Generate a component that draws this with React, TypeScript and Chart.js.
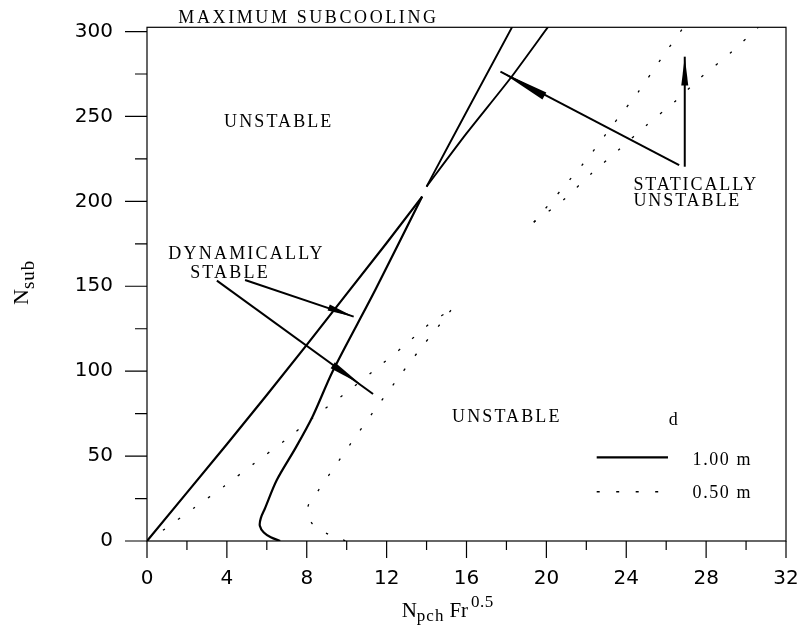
import React, { useEffect, useRef } from 'react';
import { Chart, registerables } from 'chart.js';

Chart.register(...registerables);

// ---- axis ticks ----
const X_MAJOR = [0, 4, 8, 12, 16, 20, 24, 28, 32];
const X_MINOR = [2, 6, 10, 14, 18, 22, 26, 30];
const Y_MAJOR = [0, 50, 100, 150, 200, 250, 300];
const Y_MINOR = [25, 75, 125, 175, 225, 275];

// ---- d = 1.00 m (solid) ----
const solidLowLeftX = [0, 2, 4, 6, 8, 10, 12, 13.78];
const solidLowLeftY = [0, 28.5, 57, 86, 115.5, 145.5, 175.5, 202.8];
const solidLowRightX = [6.67, 6.2, 5.85, 5.65, 5.7, 5.9, 6.5, 7.45, 8.3, 9.3, 11.43, 13.78];
const solidLowRightY = [0, 2.2, 5, 9, 13.5, 19, 35.9, 55, 73.5, 100, 147.8, 202.8];
const solidUpLeftX = [14.0, 16.13, 18.3];
const solidUpLeftY = [208.7, 255.6, 303];
const solidUpRightX = [14.0, 16.0, 18.2, 20.1];
const solidUpRightY = [208.7, 240, 272.5, 303];

// ---- d = 0.50 m (dotted) ----
const dotLowLeftX = [0.8, 2.37, 3.88, 5.38, 6.89, 8.43, 9.93, 11.4, 12.82, 14.24, 15.25];
const dotLowLeftY = [6.3, 19.6, 32.4, 45.8, 59.1, 73.6, 87, 100.7, 114.4, 128.8, 136.3];
const dotLowRightX = [9.93, 9.09, 8.26, 8.06, 8.56, 9.09, 10.15, 11.32, 12.44, 13.58, 14.74, 15.25];
const dotLowRightY = [0.2, 3.9, 10.4, 20.2, 29.4, 38.5, 56.5, 75.8, 93.8, 111.5, 128.6, 136.3];
const dotUpLeftX = [19.37, 20.88, 22.13, 23.22, 24.64, 25.73, 26.9];
const dotUpLeftY = [187.7, 208.7, 226.3, 243.4, 265, 283.7, 303];
const dotUpRightX = [19.37, 20.85, 22.22, 23.67, 25.03, 26.4, 27.73, 29.2, 30.65];
const dotUpRightY = [187.7, 200.8, 216, 230.9, 245, 258.4, 272.9, 287.2, 303];

// ---- legend ----
const LEGEND_TITLE = 'd';
const LEGEND_LABELS = ['1.00 m', '0.50 m'];

const SERIF = '"Liberation Serif", "Times New Roman", serif';
const DOT_DASH = [2.5, 16];

function pts(xs: number[], ys: number[]) {
  return xs.map((v, i) => ({ x: v, y: ys[i] }));
}

function line(xs: number[], ys: number[], dotted: boolean, tension = 0, width = 2) {
  return {
    data: pts(xs, ys),
    showLine: true,
    borderColor: '#000',
    backgroundColor: '#000',
    borderWidth: dotted ? 1.3 : width,
    borderDash: dotted ? DOT_DASH : [],
    pointRadius: 0,
    tension,
    fill: false,
  };
}

function drawText(ctx: any, s: string, x: number, y: number, size: number, spacing: number) {
  ctx.font = `${size}px ${SERIF}`;
  ctx.letterSpacing = `${spacing}px`;
  ctx.textAlign = 'left';
  ctx.textBaseline = 'alphabetic';
  ctx.fillText(s, x, y);
  const w = ctx.measureText(s).width;
  ctx.letterSpacing = '0px';
  return w;
}

function drawArrow(ctx: any, s: number[], e: number[], b: number[], a: number[], w: number) {
  ctx.lineWidth = 2;
  ctx.beginPath();
  ctx.moveTo(s[0], s[1]);
  ctx.lineTo(e[0], e[1]);
  ctx.stroke();
  const dx = a[0] - b[0];
  const dy = a[1] - b[1];
  const L = Math.hypot(dx, dy);
  const nx = (-dy / L) * (w / 2);
  const ny = (dx / L) * (w / 2);
  ctx.beginPath();
  ctx.moveTo(a[0], a[1]);
  ctx.lineTo(b[0] + nx, b[1] + ny);
  ctx.lineTo(b[0] - nx, b[1] - ny);
  ctx.closePath();
  ctx.fill();
}

const overlay = {
  id: 'overlay',
  afterDatasetsDraw(chart: any) {
    const { ctx, chartArea: a } = chart;
    const xs = chart.scales.x;
    const ys = chart.scales.y;
    const X = (v: number) => xs.getPixelForValue(v);
    const Y = (v: number) => ys.getPixelForValue(v);
    const P = (vx: number, vy: number) => [X(vx), Y(vy)];
    ctx.save();
    ctx.strokeStyle = '#000';
    ctx.fillStyle = '#000';
    ctx.lineWidth = 1.2;
    ctx.strokeRect(a.left, a.top, a.right - a.left, a.bottom - a.top);

    ctx.beginPath();
    X_MAJOR.forEach((v) => { ctx.moveTo(X(v), a.bottom); ctx.lineTo(X(v), a.bottom + 17); });
    X_MINOR.forEach((v) => { ctx.moveTo(X(v), a.bottom); ctx.lineTo(X(v), a.bottom + 9); });
    Y_MAJOR.forEach((v) => { ctx.moveTo(a.left - 22, Y(v)); ctx.lineTo(a.left, Y(v)); });
    Y_MINOR.forEach((v) => { ctx.moveTo(a.left - 12, Y(v)); ctx.lineTo(a.left, Y(v)); });
    ctx.stroke();

    // arrows
    drawArrow(ctx, P(3.5, 153.3), P(11.32, 86.6), P(9.3, 103.5), P(10.7, 92.3), 7.5);
    drawArrow(ctx, P(4.91, 153.7), P(10.35, 132.1), P(9.1, 137.5), P(10.35, 132.1), 6.5);
    drawArrow(ctx, P(26.65, 221.4), P(17.7, 276.4), P(19.9, 262), P(17.7, 276.4), 8);
    drawArrow(ctx, P(26.93, 220.4), P(26.93, 285.2), P(26.93, 268.2), P(26.93, 285.2), 7);

    // region labels
    drawText(ctx, 'MAXIMUM SUBCOOLING', X(1.57), Y(304.9), 18, 2.6);
    drawText(ctx, 'UNSTABLE', X(3.86), Y(243.6), 18, 2.1);
    drawText(ctx, 'DYNAMICALLY', X(1.07), Y(165.9), 18, 2.2);
    drawText(ctx, 'STABLE', X(2.16), Y(154.7), 18, 2.2);
    drawText(ctx, 'STATICALLY', X(24.36), Y(206.7), 18, 1.9);
    drawText(ctx, 'UNSTABLE', X(24.36), Y(197.3), 18, 1.9);
    drawText(ctx, 'UNSTABLE', X(15.28), Y(70.3), 18, 2.1);

    // legend
    drawText(ctx, LEGEND_TITLE, X(26.13), Y(68.3), 18, 0);
    ctx.lineWidth = 2.2;
    ctx.beginPath();
    ctx.moveTo(X(22.52), Y(49.3));
    ctx.lineTo(X(26.09), Y(49.3));
    ctx.stroke();
    drawText(ctx, LEGEND_LABELS[0], X(27.32), Y(44.8), 18, 1.6);
    ctx.lineWidth = 1.3;
    ctx.setLineDash([3, 16.5]);
    ctx.beginPath();
    ctx.moveTo(X(22.52), Y(29));
    ctx.lineTo(X(26.09), Y(29));
    ctx.stroke();
    ctx.setLineDash([]);
    drawText(ctx, LEGEND_LABELS[1], X(27.32), Y(25.1), 18, 1.6);

    // x-axis title
    let cx = 401.7;
    cx += drawText(ctx, 'N', cx, 616.7, 21, 0);
    cx += drawText(ctx, 'pch', cx, 620.5, 17, 1);
    cx += 5;
    cx += drawText(ctx, 'Fr', cx, 616.7, 21, 0);
    cx += 3;
    drawText(ctx, '0.5', cx, 606.7, 17, 0.5);

    // y-axis title (rotated)
    ctx.save();
    ctx.translate(27.5, 305);
    ctx.rotate(-Math.PI / 2);
    let ly = 0;
    ly += drawText(ctx, 'N', 0, 0, 22, 0);
    drawText(ctx, 'sub', ly, 6, 19, 1);
    ctx.restore();

    ctx.restore();
  },
};

export default function App() {
  const ref = useRef<HTMLCanvasElement | null>(null);
  useEffect(() => {
    if (!ref.current) return;
    const tickFont = { family: '"DejaVu Sans", Arial, sans-serif', size: 20 };
    const chart = new Chart(ref.current, {
      type: 'scatter',
      data: {
        datasets: [
          line(solidLowLeftX, solidLowLeftY, false, 0, 2.2),
          line(solidLowRightX, solidLowRightY, false, 0.3, 2.2),
          line(solidUpLeftX, solidUpLeftY, false, 0.2, 1.9),
          line(solidUpRightX, solidUpRightY, false, 0.2, 1.9),
          line(dotLowLeftX, dotLowLeftY, true, 0.2),
          line(dotLowRightX, dotLowRightY, true, 0.3),
          line(dotUpLeftX, dotUpLeftY, true, 0.2),
          line(dotUpRightX, dotUpRightY, true, 0.2),
        ] as any,
      },
      options: {
        animation: false,
        responsive: false,
        maintainAspectRatio: false,
        devicePixelRatio: 1,
        layout: { padding: { top: 27.3, right: 16, left: 0, bottom: 0 } },
        plugins: { legend: { display: false }, tooltip: { enabled: false } },
        scales: {
          x: {
            type: 'linear',
            min: 0,
            max: 32,
            afterBuildTicks: (s: any) => { s.ticks = X_MAJOR.map((v) => ({ value: v })); },
            afterFit: (s: any) => {
              s.height = 85;
              s.paddingLeft = 0; s.paddingRight = 0; s.paddingTop = 0; s.paddingBottom = 0;
            },
            grid: { display: false, drawTicks: false },
            border: { display: false },
            ticks: { font: tickFont, color: '#000', padding: 26, maxRotation: 0 },
          },
          y: {
            type: 'linear',
            min: 0,
            max: 302.5,
            afterBuildTicks: (s: any) => { s.ticks = Y_MAJOR.map((v) => ({ value: v })); },
            afterFit: (s: any) => {
              s.width = 147;
              s.paddingLeft = 0; s.paddingRight = 0; s.paddingTop = 0; s.paddingBottom = 0;
            },
            grid: { display: false, drawTicks: false },
            border: { display: false },
            ticks: { font: tickFont, color: '#000', padding: 34 },
          },
        },
      } as any,
      plugins: [overlay as any],
    });
    return () => chart.destroy();
  }, []);
  return (
    <div style={{ position: 'fixed', left: 0, top: 0, width: 802, height: 626, background: '#fff' }}>
      <canvas ref={ref} width={802} height={626} style={{ display: 'block' }} />
    </div>
  );
}
